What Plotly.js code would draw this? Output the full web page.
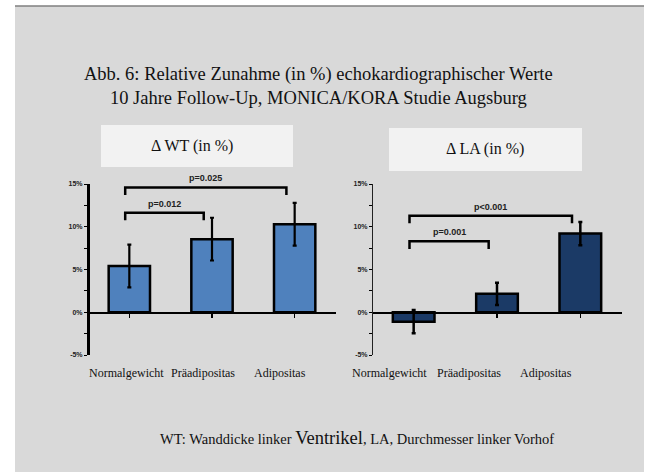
<!DOCTYPE html>
<html><head><meta charset="utf-8">
<script src="https://cdn.plot.ly/plotly-3.0.1.min.js"></script>
<style>html,body{margin:0;padding:0;background:#fff;}#chart{width:646px;height:472px;}</style>
</head><body><div id="chart"></div>
<script>
// ---- data ----
const categories = ["Normalgewicht", "Präadipositas", "Adipositas"];
const wtValues = [5.4, 8.55, 10.3];
const wtErrors = [2.5, 2.5, 2.5];
const laValues = [-1.1, 2.15, 9.2];
const laErrors = [1.35, 1.3, 1.35];
const yTickVals = [-5, 0, 5, 10, 15];
const yTickText = ["-5%", "0%", "5%", "10%", "15%"];
// comparisons: [from category, to category, p label, bracket height (%)]
const wtPairs = [[0, 1, "p=0.012", 11.65], [0, 2, "p=0.025", 14.6]];
const laPairs = [[0, 1, "p=0.001", 8.3], [0, 2, "p<0.001", 11.3]];
const mainTitle = "Abb. 6: Relative Zunahme (in %) echokardiographischer Werte<br>10 Jahre Follow-Up, MONICA/KORA Studie Augsburg";
const panelTitles = ["Δ WT (in %)", "Δ LA (in %)"];
const footnote = "WT: Wanddicke linker <span style='font-size:18.5px'>Ventrikel</span>, LA, Durchmesser linker Vorhof";

const W = 646, H = 472;
const px = v => v / W, py = v => 1 - v / H;
const yDom = [py(355), py(184)];
const yRange = [-5, 15];
const zeroPos = yDom[0] + (0 - yRange[0]) / (yRange[1] - yRange[0]) * (yDom[1] - yDom[0]);

const traces = [
  {type: "bar", x: [0, 1, 2], y: wtValues, width: 0.5, xaxis: "x", yaxis: "y",
   marker: {color: "#4f81bd", line: {color: "#000", width: 2.5}},
   error_y: {type: "data", array: wtErrors, visible: true, color: "#000", thickness: 2.2, width: 2},
   hoverinfo: "skip"},
  {type: "bar", x: [0, 1, 2], y: laValues, width: 0.5, xaxis: "x2", yaxis: "y2",
   marker: {color: "#1b3a66", line: {color: "#000", width: 2.5}},
   error_y: {type: "data", array: laErrors, visible: true, color: "#000", thickness: 2.5, width: 2},
   hoverinfo: "skip"}
];

const shapes = [
  {type: "rect", xref: "paper", yref: "paper", x0: px(15), x1: px(644), y0: 0, y1: py(6),
   fillcolor: "#d9d9d9", line: {width: 0}, layer: "below"},
  {type: "line", xref: "paper", yref: "paper", x0: px(15), x1: px(644), y0: py(6), y1: py(6),
   line: {color: "#7f7f7f", width: 1.5}},
  {type: "rect", xref: "paper", yref: "paper", x0: px(101), x1: px(293), y0: py(167), y1: py(125),
   fillcolor: "#f2f2f2", line: {width: 0}, layer: "below"},
  {type: "rect", xref: "paper", yref: "paper", x0: px(389), x1: px(582), y0: py(171), y1: py(128),
   fillcolor: "#f2f2f2", line: {width: 0}, layer: "below"}
];
const serif = "Liberation Serif, serif";
function note(x, y, text, font, extra) {
  return Object.assign({xref: "paper", yref: "paper", x: px(x), y: py(y), text: text, showarrow: false,
    xanchor: "center", yanchor: "middle", font: font}, extra || {});
}
const annotations = [
  note(318, 86, mainTitle, {family: serif, size: 18.5, color: "#111"}, {align: "center"}),
  note(192, 146, panelTitles[0], {family: serif, size: 16, color: "#111"}),
  note(485, 149, panelTitles[1], {family: serif, size: 16, color: "#111"}),
  note(357, 438, footnote, {family: serif, size: 14.5, color: "#111"})
];

function addBrackets(pairs, xa, ya) {
  pairs.forEach(([a, b, label, h]) => {
    const xa0 = a - 0.05, xb0 = b - 0.1, drop = 0.9;
    shapes.push({type: "path", xref: xa, yref: ya,
      path: `M ${xa0} ${h - drop} L ${xa0} ${h} L ${xb0} ${h} L ${xb0} ${h - drop}`,
      line: {color: "#000", width: 2.5}});
    annotations.push({xref: xa, yref: ya, x: (xa0 + xb0) / 2, y: h, yshift: 9, text: label,
      xanchor: "center", yanchor: "middle",
      showarrow: false, font: {family: "Liberation Sans, Arial", size: 9, color: "#222", weight: "bold"}});
  });
}
addBrackets(wtPairs, "x", "y");
addBrackets(laPairs, "x2", "y2");

function addCatLabels(xa, shifts) {
  categories.forEach((c, i) => {
    annotations.push({xref: xa, yref: "paper", x: i, y: py(373), xshift: shifts[i], text: c, showarrow: false,
      xanchor: "center", yanchor: "middle",
      font: {family: serif, size: 12, color: "#111"}});
  });
}
addCatLabels("x", [-3, -9, -15]);
addCatLabels("x2", [-24, -28, -34]);

const xBase = {range: [-0.5, 2.5], anchor: "free", position: zeroPos, showline: true, linecolor: "#000",
  linewidth: 1.5, ticks: "outside", tickson: "boundaries", ticklen: 4, tickcolor: "#000", tickwidth: 1.2,
  tickvals: [0, 1, 2], showticklabels: false, showgrid: false, zeroline: false, fixedrange: true};
const yBase = {range: yRange, domain: yDom, tickvals: yTickVals, ticktext: yTickText, ticks: "outside",
  ticklen: 3, tickcolor: "#000", showline: true, linecolor: "#000", showgrid: false, zeroline: false,
  tickfont: {family: "Liberation Sans, Arial", size: 7, color: "#222", weight: "bold"},
  minor: {tickvals: [-2.5, 2.5, 7.5, 12.5], ticks: "outside", ticklen: 3, tickcolor: "#000"}, fixedrange: true};

const layout = {
  width: W, height: H, margin: {l: 0, r: 0, t: 0, b: 0}, paper_bgcolor: "#fff", plot_bgcolor: "rgba(0,0,0,0)",
  showlegend: false, barmode: "group",
  xaxis: Object.assign({}, xBase, {domain: [px(88), px(336)]}),
  yaxis: Object.assign({}, yBase, {anchor: "free", position: px(88), linewidth: 3}),
  xaxis2: Object.assign({}, xBase, {domain: [px(372), px(622)]}),
  yaxis2: Object.assign({}, yBase, {anchor: "free", position: px(372), linewidth: 1, linecolor: "#222"}),
  shapes: shapes, annotations: annotations
};
Plotly.newPlot("chart", traces, layout, {staticPlot: true});
</script></body></html>
